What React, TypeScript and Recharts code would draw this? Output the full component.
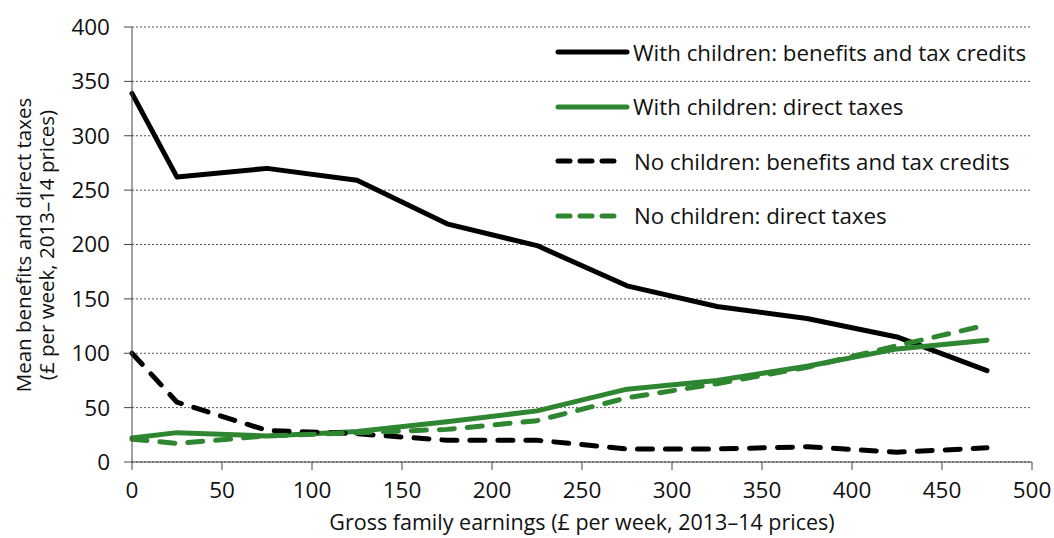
import { LineChart, Line, XAxis, YAxis, CartesianGrid } from 'recharts'

const earnings = [0, 25, 75, 125, 175, 225, 275, 325, 375, 425, 475]
const withChildrenBenefits = [339, 262, 270, 259, 219, 199, 162, 143, 132, 115, 84]
const withChildrenTaxes = [22, 27, 24, 28, 37, 47, 67, 75, 88, 104, 112]
const noChildrenBenefits = [100, 55, 29, 26, 20, 20, 12, 12, 14, 9, 13]
const noChildrenTaxes = [21, 17, 24, 27, 30, 38, 59, 72, 87, 107, 126]

const xTicks = [0, 50, 100, 150, 200, 250, 300, 350, 400, 450, 500]
const yTicks = [0, 50, 100, 150, 200, 250, 300, 350, 400]

const GREEN = '#2e8631'
const FONT = '"Open Sans", "Noto Sans", sans-serif'

const series = [
  { key: 'wcb', name: 'With children: benefits and tax credits', color: '#000', dashed: false },
  { key: 'wct', name: 'With children: direct taxes', color: GREEN, dashed: false },
  { key: 'ncb', name: 'No children: benefits and tax credits', color: '#000', dashed: true },
  { key: 'nct', name: 'No children: direct taxes', color: GREEN, dashed: true },
]

const data = earnings.map((x, i) => ({
  x,
  wcb: withChildrenBenefits[i],
  wct: withChildrenTaxes[i],
  ncb: noChildrenBenefits[i],
  nct: noChildrenTaxes[i],
}))

// legend sits over the plot, so it's drawn outside recharts' layout
function LegendBox() {
  return (
    <div
      style={{
        position: 'absolute',
        left: 553,
        top: 25,
        width: 500,
        fontFamily: FONT,
        fontSize: 22.3,
        color: '#111',
      }}
    >
      {series.map((s) => (
        <div key={s.key} style={{ display: 'flex', alignItems: 'center', height: 54.5, whiteSpace: 'nowrap' }}>
          <svg width={s.dashed ? 81 : 80} height={10}>
            <line
              x1={5}
              x2={s.dashed ? 64 : 74}
              y1={5}
              y2={5}
              stroke={s.color}
              strokeWidth={5}
              strokeLinecap="round"
              strokeDasharray={s.dashed ? '12 10' : undefined}
            />
          </svg>
          <span>{s.name}</span>
        </div>
      ))}
    </div>
  )
}

function YLabel() {
  return (
    <text
      transform="translate(36,245) rotate(-90)"
      textAnchor="middle"
      fontFamily={FONT}
      fontSize={20.5}
      fill="#111"
    >
      <tspan x={0} dy={-5}>Mean benefits and direct taxes</tspan>
      <tspan x={0} dy={23}>(£ per week, 2013–14 prices)</tspan>
    </text>
  )
}

export default function App() {
  return (
    <div style={{ position: 'absolute', left: 0, top: 0, width: 1054, height: 538, background: '#fff' }}>
      <LineChart width={1054} height={538} data={data} margin={{ top: 27, right: 22, left: 0, bottom: 0 }}>
        <CartesianGrid vertical={false} stroke="#555" strokeDasharray="2 2" strokeWidth={1} />
        <XAxis
          dataKey="x"
          type="number"
          domain={[0, 500]}
          ticks={xTicks}
          interval={0}
          height={76}
          tickSize={8}
          tickMargin={12}
          stroke="#444"
          tick={{ fill: '#111', fontSize: 22.5, fontFamily: FONT }}
          label={{ value: 'Gross family earnings (£ per week, 2013–14 prices)', position: 'insideBottom', offset: 8, fill: '#111', fontSize: 21.5, fontFamily: FONT }}
        />
        <YAxis
          type="number"
          domain={[0, 400]}
          ticks={yTicks}
          interval={0}
          width={132}
          tickSize={8}
          tickMargin={14}
          stroke="#444"
          tick={{ fill: '#111', fontSize: 22.5, fontFamily: FONT }}
          label={<YLabel />}
        />
        {series.map((s) => (
          <Line
            key={s.key}
            dataKey={s.key}
            name={s.name}
            stroke={s.color}
            strokeWidth={5}
            strokeDasharray={s.dashed ? '15 13' : undefined}
            strokeLinecap="round"
            strokeLinejoin="round"
            dot={false}
            activeDot={false}
            type="linear"
            isAnimationActive={false}
          />
        ))}
      </LineChart>
      <LegendBox />
    </div>
  )
}
